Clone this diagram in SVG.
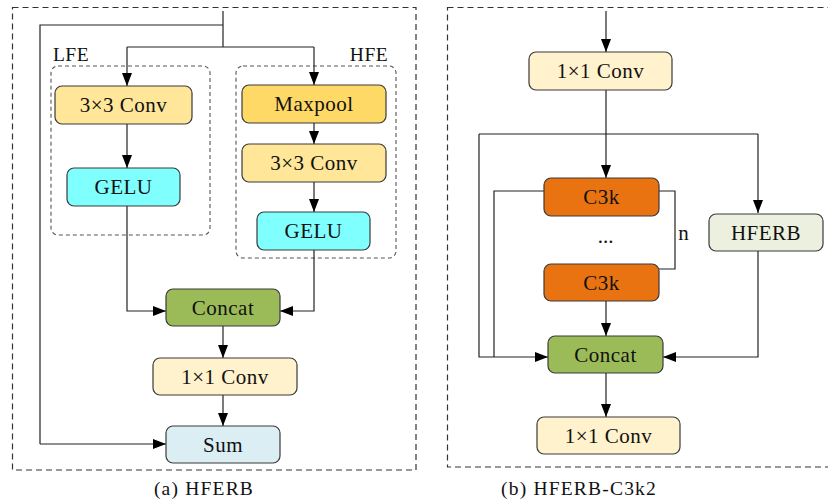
<svg xmlns="http://www.w3.org/2000/svg" width="828" height="502" viewBox="0 0 828 502">
  <style>
    .frame { fill: none; stroke: #333; stroke-width: 1.2; stroke-dasharray: 6 4; }
    .group { fill: none; stroke: #555; stroke-width: 1.1; stroke-dasharray: 4 3; }
    .box { stroke: #3a3a3a; stroke-width: 1.2; }
    .lbl { font-family: "Liberation Serif", "Times New Roman", serif; font-size: 21px; fill: #111; text-anchor: middle; letter-spacing: 0.5px; }
    .cap { font-family: "Liberation Serif", "Times New Roman", serif; font-size: 19.5px; fill: #111; text-anchor: middle; letter-spacing: 1.2px; }
    .wire { fill: none; stroke: #222; stroke-width: 1.2; }
    .arr { marker-end: url(#head); }
  </style>
  <defs>
    <marker id="head" viewBox="0 0 10 10" refX="10" refY="5" markerWidth="13" markerHeight="10" markerUnits="userSpaceOnUse" orient="auto" preserveAspectRatio="none">
      <path d="M0,0 L10,5 L0,10 Z" fill="#000"/>
    </marker>
  </defs>

  <rect width="828" height="502" fill="#fff"/>

  <!-- panel frames -->
  <rect class="frame" x="12.5" y="7.5" width="403.5" height="462.5"/>
  <rect class="frame" x="447.5" y="7.5" width="392" height="459.5"/>

  <!-- grouping boxes -->
  <g id="lfe">
    <rect class="group" x="51" y="66" width="159" height="169" rx="7"/>
    <text class="cap" x="71" y="61" style="letter-spacing:0.5px">LFE</text>
  </g>
  <g id="hfe">
    <rect class="group" x="236" y="66" width="160" height="192" rx="7"/>
    <text class="cap" x="369" y="61" style="letter-spacing:0.5px">HFE</text>
  </g>

  <!-- connectors -->
  <g id="connectors">
    <!-- (a) HFERB -->
    <path class="wire" d="M223,11 V47"/>
    <path class="wire" d="M223,25 H40 V444"/>
    <path class="wire arr" d="M40,444 H166"/>
    <path class="wire" d="M127,47 H314"/>
    <path class="wire arr" d="M127,47 V86"/>
    <path class="wire arr" d="M314,47 V85"/>
    <path class="wire arr" d="M127,124 V168"/>
    <path class="wire arr" d="M314,123 V144"/>
    <path class="wire arr" d="M314,182 V212"/>
    <path class="wire arr" d="M127,206 V311 H166"/>
    <path class="wire arr" d="M314,250 V311 H280"/>
    <path class="wire arr" d="M223,326 V358"/>
    <path class="wire arr" d="M223,395 V426"/>

    <!-- (b) HFERB-C3k2 -->
    <path class="wire arr" d="M606,11 V52"/>
    <path class="wire arr" d="M606,90 V178"/>
    <path class="wire" d="M479,134 H758"/>
    <path class="wire arr" d="M758,134 V213"/>
    <path class="wire arr" d="M479,134 V357 H548"/>
    <path class="wire" d="M544,191 H494 V357"/>
    <path class="wire" d="M659,191 H675 V269 H659"/>
    <path class="wire arr" d="M606,301 V336"/>
    <path class="wire arr" d="M758,251 V357 H663"/>
    <path class="wire arr" d="M606,373 V417"/>
  </g>

  <!-- (a) HFERB nodes -->
  <g id="lfe-conv">
    <rect class="box" x="55" y="86" width="137" height="38" rx="7" fill="#FFE699"/>
    <text class="lbl" x="123.5" y="112">3×3 Conv</text>
  </g>
  <g id="lfe-gelu">
    <rect class="box" x="67" y="168" width="113" height="38" rx="7" fill="#80FFFF"/>
    <text class="lbl" x="123.5" y="194">GELU</text>
  </g>
  <g id="maxpool">
    <rect class="box" x="242" y="85" width="144" height="38" rx="7" fill="#FFD966"/>
    <text class="lbl" x="314" y="111">Maxpool</text>
  </g>
  <g id="hfe-conv">
    <rect class="box" x="242" y="144" width="144" height="38" rx="7" fill="#FFE699"/>
    <text class="lbl" x="314" y="170">3×3 Conv</text>
  </g>
  <g id="hfe-gelu">
    <rect class="box" x="257" y="212" width="113" height="38" rx="7" fill="#80FFFF"/>
    <text class="lbl" x="313.5" y="238">GELU</text>
  </g>
  <g id="concat-a">
    <rect class="box" x="166" y="289" width="114" height="37" rx="7" fill="#9BBB59"/>
    <text class="lbl" x="223" y="315">Concat</text>
  </g>
  <g id="conv1-a">
    <rect class="box" x="153" y="358" width="144" height="37" rx="7" fill="#FFF2CC"/>
    <text class="lbl" x="225" y="384">1×1 Conv</text>
  </g>
  <g id="sum">
    <rect class="box" x="166" y="426" width="114" height="37" rx="7" fill="#DAEEF3"/>
    <text class="lbl" x="223" y="452">Sum</text>
  </g>

  <!-- (b) HFERB-C3k2 nodes -->
  <g id="conv1-in">
    <rect class="box" x="529" y="52" width="143" height="38" rx="7" fill="#FFF2CC"/>
    <text class="lbl" x="600.5" y="78">1×1 Conv</text>
  </g>
  <g id="c3k-top">
    <rect class="box" x="544" y="178" width="115" height="38" rx="7" fill="#E97311"/>
    <text class="lbl" x="601.5" y="204">C3k</text>
  </g>
  <g id="repeat">
    <text class="lbl" x="605.5" y="243" style="letter-spacing:0">...</text>
    <text class="lbl" x="683.5" y="240" style="letter-spacing:0">n</text>
  </g>
  <g id="c3k-bottom">
    <rect class="box" x="544" y="264" width="115" height="37" rx="7" fill="#E97311"/>
    <text class="lbl" x="601.5" y="290">C3k</text>
  </g>
  <g id="hferb">
    <rect class="box" x="709" y="214" width="114" height="37" rx="7" fill="#EBF1DE"/>
    <text class="lbl" x="766" y="240">HFERB</text>
  </g>
  <g id="concat-b">
    <rect class="box" x="548" y="336" width="115" height="37" rx="7" fill="#9BBB59"/>
    <text class="lbl" x="605.5" y="362">Concat</text>
  </g>
  <g id="conv1-out">
    <rect class="box" x="537" y="417" width="143" height="37" rx="7" fill="#FFF2CC"/>
    <text class="lbl" x="608.5" y="443">1×1 Conv</text>
  </g>

  <!-- captions -->
  <text class="cap" x="204" y="495">(a) HFERB</text>
  <text class="cap" x="579" y="495">(b) HFERB-C3k2</text>
</svg>
